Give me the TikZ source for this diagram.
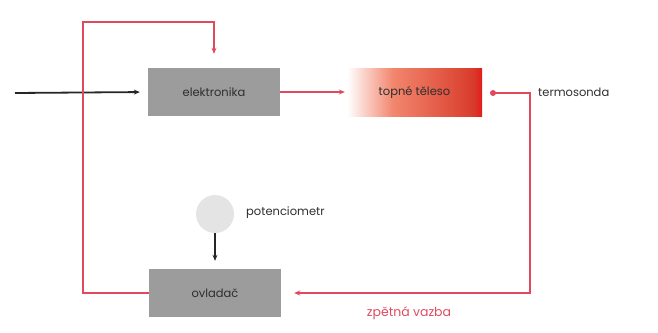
\documentclass[tikz,border=0pt]{standalone}
\usepackage{fontspec}
\setmainfont{Poppins}
\usetikzlibrary{arrows.meta}
\definecolor{boxgray}{HTML}{9C9C9C}
\definecolor{linered}{HTML}{E04A5E}
\definecolor{hotred}{HTML}{E31B1B}
\definecolor{salmon}{HTML}{F2866E}
\definecolor{deepred}{HTML}{D83A2A}
\definecolor{circgray}{HTML}{E4E4E4}
\definecolor{txt}{HTML}{2E2E2E}
\pgfdeclarehorizontalshading{heat}{100bp}{color(0bp)=(white); color(25bp)=(white); color(42bp)=(salmon); color(68bp)=(deepred!85!salmon); color(72bp)=(deepred); color(75bp)=(hotred); color(100bp)=(hotred)}
\begin{document}
\begin{tikzpicture}[x=1pt,y=-1pt,
  block/.style={fill=boxgray, minimum width=132pt, minimum height=48pt, inner sep=0pt, text=txt, font=\fontsize{11.5}{13}\selectfont},
  redline/.style={draw=linered, line width=1.6pt},
  redarrow/.style={redline, -{Stealth[length=6pt,width=5pt]}},
  blackarrow/.style={draw=black!85, line width=1.8pt, -{Stealth[length=6pt,width=5pt]}},
  lbl/.style={font=\fontsize{11.5}{13}\selectfont, text=txt, inner sep=0pt, anchor=west}]
\useasboundingbox (0,0) rectangle (658,332);
\node[block] (e) at (214,92) {elektronika};
\node[block, fill=none, shading=heat, minimum width=135pt] (t) at (414.5,92) {topné těleso};
\node[block] (o) at (215,293) {ovladač};
\node[circle, fill=circgray, minimum size=38pt, inner sep=0pt] (p) at (215,214) {};
\node[lbl] (pl) at (246,213) {potenciometr};
\node[lbl] (tl) at (538,92) {termosonda};
\node[lbl, anchor=center, text=linered, font=\fontsize{12.5}{14}\selectfont] (zv) at (409,313) {zpětná vazba};
\coordinate (in) at (15,93);
\coordinate (ts) at (493,93);
\coordinate (rc) at (530,293);
\coordinate (lt) at (83,22);
\draw[blackarrow, shorten >=8pt] (in) -- (e.west);
\draw[redarrow, shorten >=2pt] (e.east) -- (t.west);
\fill[linered] (ts) circle (3pt);
\draw[redarrow, shorten >=13pt] (ts) -| (rc) -- (o.east);
\draw[redarrow, shorten >=14pt] (o.west) -| (lt) -| (e.north);
\draw[blackarrow, shorten >=8pt] (p.south) -- (o.north);
\end{tikzpicture}
\end{document}
